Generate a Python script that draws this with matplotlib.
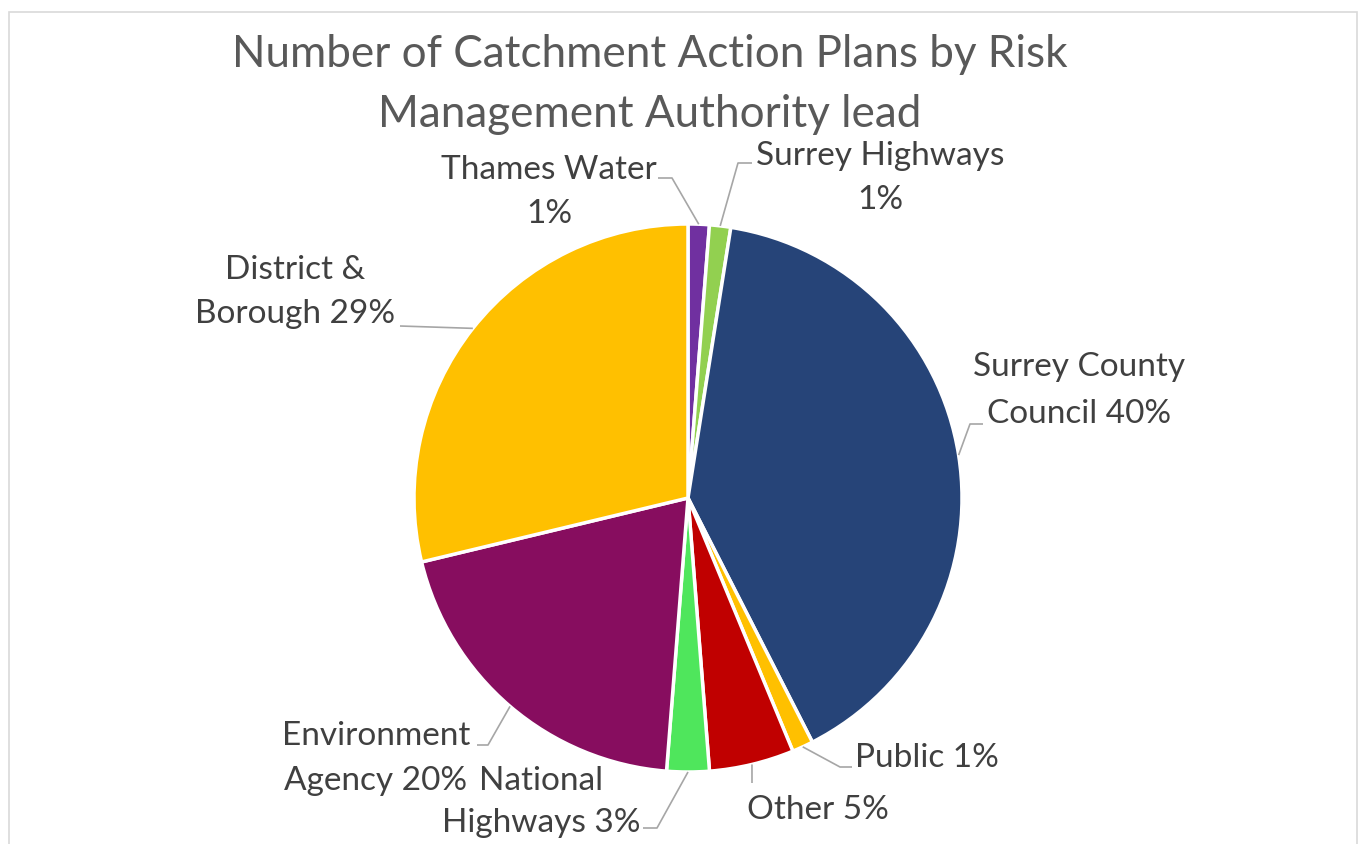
import matplotlib
matplotlib.use('Agg')
import matplotlib.pyplot as plt
from matplotlib.patches import Rectangle
import numpy as np

W, H = 1370, 844

# ---- data ----
categories = ['Thames Water', 'Surrey Highways', 'Surrey County Council', 'Public',
              'Other', 'National Highways', 'Environment Agency', 'District & Borough']
counts = [1, 1, 32, 1, 4, 2, 16, 23]
colors = ['#7030A0', '#92D050', '#264478', '#FFC000',
          '#C00000', '#4FE65C', '#870D5F', '#FFC000']
wrapped_names = ['Thames Water\n', 'Surrey Highways\n', 'Surrey County\nCouncil ', 'Public ',
                 'Other ', 'National\nHighways ', 'Environment\nAgency ', 'District &\nBorough ']
title_lines = ['Number of Catchment Action Plans by Risk', 'Management Authority lead']

# ---- layout (pixel coords, y from top) ----
CX, CY, R = 688, 498, 274
# x, first baseline, line spacing, ha, leader points (text side -> elbow)
layout = [
    (549, 179, 44, 'center', [(658, 178), (672, 178)]),
    (880, 165, 44, 'center', [(752, 163), (738, 163)]),
    (1079, 376, 47, 'center', [(983, 424), (970, 424)]),
    (855, 767, 44, 'left', [(852, 767), (840, 767)]),
    (818, 819, 44, 'center', [(752, 783)]),
    (541, 790, 42, 'center', [(643, 828), (657, 828)]),
    (376, 745, 45, 'center', [(477, 745), (488, 745)]),
    (295, 279, 44, 'center', [(400, 326)]),
]

FONT = 'Lato'
fig = plt.figure(figsize=(W / 100, H / 100), dpi=100)
ax = fig.add_axes([0, 0, 1, 1])

def Y(y):
    return H - y

wedges, _ = ax.pie(counts, colors=colors, startangle=90, counterclock=False,
                   center=(CX, Y(CY)), radius=R,
                   wedgeprops=dict(edgecolor='white', linewidth=2.5))
ax.set_xlim(0, W)
ax.set_ylim(0, H)
ax.set_aspect('equal')
ax.axis('off')

ax.add_patch(Rectangle((9, Y(850)), 1357 - 9, 850 - 12, fill=False,
                       edgecolor='#D9D9D9', linewidth=1.2, clip_on=False))

renderer = fig.canvas.get_renderer()

def fit(text_obj, target_w):
    bb = text_obj.get_window_extent(renderer=renderer)
    return text_obj.get_fontsize() * target_w / bb.width

# title
t_probe = ax.text(0, 0, title_lines[0], fontsize=30, family=FONT)
title_fs = fit(t_probe, 833)
t_probe.remove()
for i, line in enumerate(title_lines):
    ax.text(650, Y(67 + 60 * i), line, fontsize=title_fs, family=FONT,
            color='#595959', ha='center', va='baseline')

# labels
l_probe = ax.text(0, 0, 'Thames Water', fontsize=24, family=FONT)
label_fs = fit(l_probe, 216)
l_probe.remove()

total = sum(counts)
cum = 0
for i, (name, c) in enumerate(zip(wrapped_names, counts)):
    pct = int(100 * c / total + 0.5)
    text = f'{name}{pct}%'
    x, yb, dy, ha, pts = layout[i]
    for j, line in enumerate(text.split('\n')):
        ax.text(x, Y(yb + dy * j), line, fontsize=label_fs, family=FONT,
                color='#404040', ha=ha, va='baseline')
    mid = np.deg2rad(90 - 360 * (cum + c / 2) / total)
    cum += c
    ex, ey = CX + R * np.cos(mid), Y(CY) + R * np.sin(mid)
    xs = [p[0] for p in pts] + [ex]
    ys = [Y(p[1]) for p in pts] + [ey]
    ax.plot(xs, ys, color='#A6A6A6', linewidth=1.2, solid_capstyle='butt')

fig.savefig('out.png', dpi=100)
